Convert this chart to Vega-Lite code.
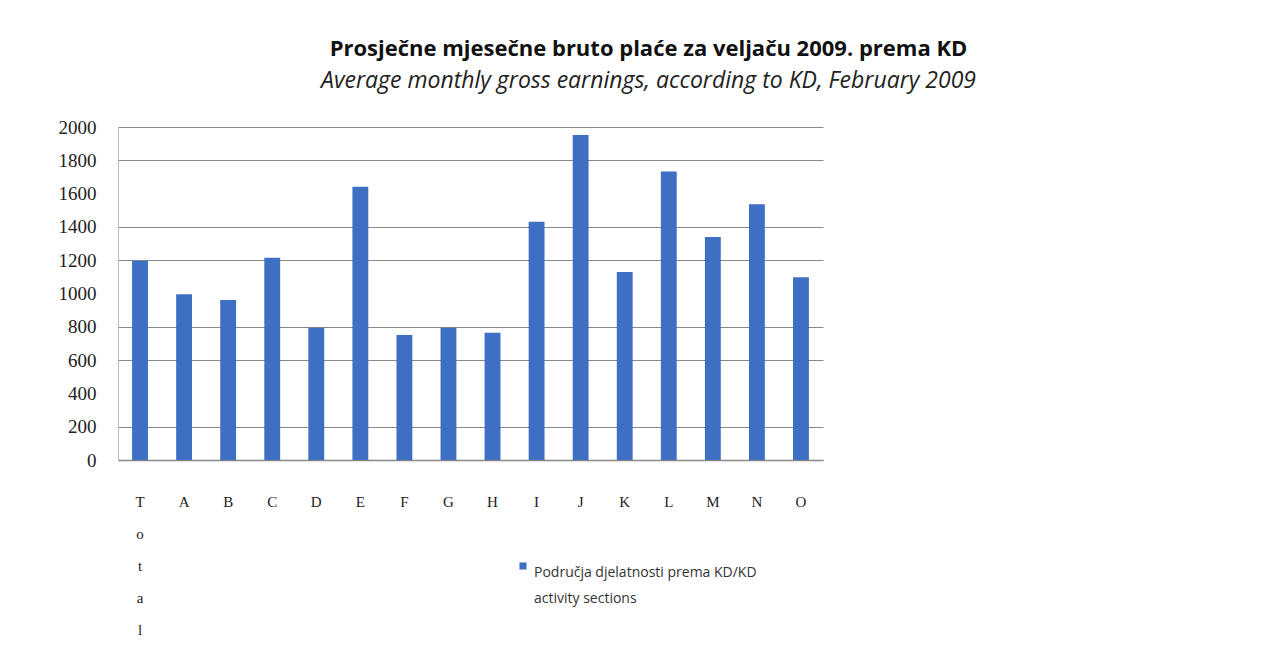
{
  "$schema": "https://vega.github.io/schema/vega-lite/v6.json",
  "autosize": "none",
  "width": 705,
  "height": 333,
  "padding": {"left": 118, "top": 127, "right": 440, "bottom": 200},
  "background": "white",
  "title": {
    "text": "Prosječne mjesečne bruto plaće za veljaču 2009. prema KD",
    "subtitle": "Average monthly gross earnings, according to KD, February 2009",
    "anchor": "middle",
    "dx": 178,
    "offset": 24,
    "font": "Open Sans",
    "fontSize": 22,
    "fontWeight": "bold",
    "color": "#111",
    "subtitleFont": "Open Sans",
    "subtitleFontSize": 23,
    "subtitleFontStyle": "italic",
    "subtitleColor": "#222",
    "subtitlePadding": 9
  },
  "data": {
    "values": [
      {"section": "Total", "value": 1197},
      {"section": "A", "value": 995},
      {"section": "B", "value": 961},
      {"section": "C", "value": 1215},
      {"section": "D", "value": 795},
      {"section": "E", "value": 1641},
      {"section": "F", "value": 751},
      {"section": "G", "value": 795},
      {"section": "H", "value": 765},
      {"section": "I", "value": 1431},
      {"section": "J", "value": 1952},
      {"section": "K", "value": 1129},
      {"section": "L", "value": 1732},
      {"section": "M", "value": 1339},
      {"section": "N", "value": 1536},
      {"section": "O", "value": 1097}
    ]
  },
  "encoding": {
    "x": {
      "field": "section",
      "type": "nominal",
      "sort": null,
      "scale": {"paddingInner": 0.64, "paddingOuter": 0.32},
      "axis": {
        "title": null,
        "labelAngle": 0,
        "labelFont": "Liberation Serif",
        "labelFontSize": 15,
        "labelColor": "#222",
        "labelPadding": 34,
        "labelBaseline": "top",
        "labelLineHeight": 32,
        "labelExpr": "datum.value == 'Total' ? ['T','o','t','a','l'] : datum.value",
        "ticks": false,
        "domainColor": "#888",
        "domainWidth": 1.5
      }
    }
  },
  "layer": [
    {
      "mark": {"type": "bar", "opacity": 0},
      "encoding": {
        "y": {
          "field": "value",
          "type": "quantitative",
          "scale": {"domain": [0, 2000]},
          "axis": {
            "title": null,
            "orient": "left",
            "values": [0, 200, 600, 800, 1200, 1400, 1800, 2000],
            "labels": false,
            "ticks": false,
            "domain": false,
            "grid": true,
            "gridColor": "#888",
            "gridWidth": 1.2,
            "zindex": 0
          }
        }
      }
    },
    {
      "mark": {"type": "bar"},
      "encoding": {
        "y": {
          "field": "value",
          "type": "quantitative",
          "scale": {"domain": [0, 2000]},
          "axis": {
            "title": null,
            "orient": "left",
            "values": [0, 200, 400, 600, 800, 1000, 1200, 1400, 1600, 1800, 2000],
            "format": "d",
            "labelFont": "Liberation Serif",
            "labelFontSize": 19,
            "labelColor": "#222",
            "labelPadding": 22,
            "ticks": false,
            "domain": true,
            "domainColor": "#bbb",
            "grid": false
          }
        },
        "color": {
          "datum": "Područja djelatnosti  prema KD/KD activity sections",
          "type": "nominal",
          "scale": {"range": ["#3d6fc2"]},
          "legend": {
            "title": null,
            "orient": "none",
            "legendX": 398,
            "legendY": 432,
            "symbolType": "square",
            "symbolSize": 50,
            "labelFont": "Open Sans",
            "labelFontSize": 14,
            "labelColor": "#333",
            "labelBaseline": "top",
            "labelExpr": "['Područja djelatnosti  prema KD/KD', 'activity sections']",
            "labelLimit": 400,
            "encode": {
              "labels": {"update": {"lineHeight": {"value": 26}}}
            }
          }
        }
      }
    }
  ],
  "resolve": {"axis": {"y": "independent"}},
  "config": {
    "view": {"stroke": null}
  }
}
